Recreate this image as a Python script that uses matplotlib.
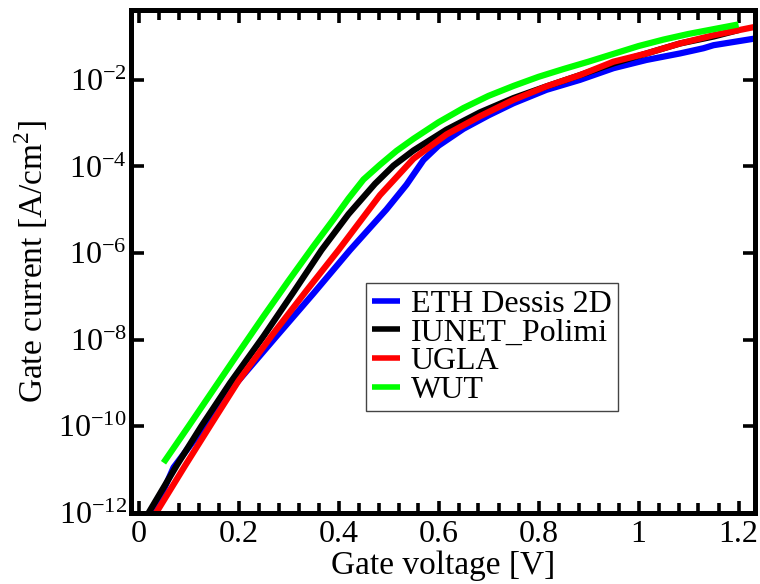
import numpy as np
import matplotlib
matplotlib.use('Agg')
from matplotlib import pyplot as plt
from matplotlib.ticker import MultipleLocator, FixedLocator, FuncFormatter, NullLocator

plt.rcParams['font.family'] = ['Liberation Serif', 'DejaVu Serif']
plt.rcParams['mathtext.fontset'] = 'custom'
plt.rcParams['mathtext.rm'] = 'Liberation Serif'

# gate voltage [V] and log10 of gate current [A/cm^2]
eth_v = [0.03, 0.07, 0.133, 0.196, 0.276, 0.35, 0.423, 0.496, 0.536, 0.57, 0.6,
         0.65, 0.7, 0.75, 0.816, 0.883, 0.95, 1.016, 1.083, 1.13, 1.15, 1.236]
eth_log = [-12.0, -10.95, -9.99, -9.0, -7.92, -6.93, -5.93, -4.99, -4.42, -3.85, -3.52,
           -3.13, -2.82, -2.54, -2.23, -2.0, -1.73, -1.54, -1.39, -1.27, -1.20, -1.04]

iunet_v = [0.02, 0.076, 0.126, 0.183, 0.25, 0.31, 0.366, 0.42, 0.473, 0.51, 0.55,
           0.616, 0.683, 0.75, 0.816, 0.883, 0.95, 1.016, 1.083, 1.15, 1.2]
iunet_log = [-12.0, -10.91, -9.99, -9.0, -7.92, -6.9, -5.93, -5.1, -4.40, -3.98, -3.63,
             -3.15, -2.75, -2.42, -2.15, -1.89, -1.62, -1.39, -1.16, -1.0, -0.85]

ugla_v = [0.035, 0.093, 0.143, 0.2, 0.27, 0.335, 0.4, 0.483, 0.55, 0.616,
          0.683, 0.75, 0.816, 0.883, 0.95, 1.016, 1.083, 1.15, 1.236]
ugla_log = [-12.0, -10.91, -9.99, -8.95, -7.85, -6.88, -5.93, -4.66, -3.82, -3.26,
            -2.84, -2.46, -2.15, -1.89, -1.58, -1.39, -1.16, -0.97, -0.77]

wut_v = [0.05, 0.1, 0.15, 0.2, 0.25, 0.3, 0.35, 0.39, 0.42, 0.45, 0.483, 0.516, 0.55,
         0.6, 0.65, 0.7, 0.75, 0.8, 0.85, 0.9, 0.95, 1.0, 1.05, 1.1, 1.15, 1.2]
wut_log = [-10.84, -10.0, -9.15, -8.3, -7.46, -6.64, -5.84, -5.22, -4.74, -4.30, -3.96,
           -3.64, -3.36, -2.98, -2.65, -2.37, -2.14, -1.93, -1.75, -1.58, -1.40, -1.22,
           -1.07, -0.94, -0.83, -0.72]

series = [
    ('ETH Dessis 2D', eth_v, eth_log, '#0000ff'),
    ('IUNET_Polimi', iunet_v, iunet_log, '#000000'),
    ('UGLA', ugla_v, ugla_log, '#ff0000'),
    ('WUT', wut_v, wut_log, '#00ff00'),
]

fig = plt.figure(figsize=(7.6, 5.84), dpi=100)
ax = fig.add_axes([131 / 760, 1 - 513 / 584, 624 / 760, 503 / 584])

for name, v, lg, col in series:
    ax.plot(v, 10.0 ** np.array(lg), color=col, lw=4.5, label=name,
            solid_capstyle='butt', solid_joinstyle='round')

ax.set_yscale('log')
ax.set_xlim(-0.015, 1.233)
ax.set_ylim(1e-12, 0.41)

ax.xaxis.set_major_locator(MultipleLocator(0.2))
ax.xaxis.set_minor_locator(MultipleLocator(0.04))
ax.xaxis.set_major_formatter(FuncFormatter(lambda x, p: '%g' % round(x, 2)))
ax.yaxis.set_major_locator(FixedLocator([1e-12, 1e-10, 1e-8, 1e-6, 1e-4, 1e-2]))
ax.yaxis.set_minor_locator(NullLocator())
ax.yaxis.set_major_formatter(FuncFormatter(
    lambda y, p: r'$\mathregular{10^{%d}}$' % round(np.log10(y))))

ax.tick_params(which='both', direction='in', top=True, right=True,
               labelsize=23, width=2.6, colors='black')
ax.tick_params(axis='x', pad=5)
ax.tick_params(axis='y', pad=3)
ax.tick_params(which='major', length=9)
ax.tick_params(which='minor', length=7.5)
for s in ax.spines.values():
    s.set_linewidth(3.6)

ax.set_xlabel('Gate voltage [V]', fontsize=24, labelpad=1)
ax.set_ylabel(r'Gate current [A/cm$^\mathregular{2}$]', fontsize=24, labelpad=6)

leg = ax.legend(loc='upper left', bbox_to_anchor=(0.3766, 0.457), borderaxespad=0,
                fontsize=23, handlelength=0.85, handletextpad=0.35,
                labelspacing=-0.02, borderpad=0.2, fancybox=False, framealpha=1)
leg.get_frame().set_edgecolor('#444444')
leg.get_frame().set_linewidth(1.0)
for h in leg.get_lines():
    h.set_linewidth(4)

fig.savefig('out.png', dpi=100)
